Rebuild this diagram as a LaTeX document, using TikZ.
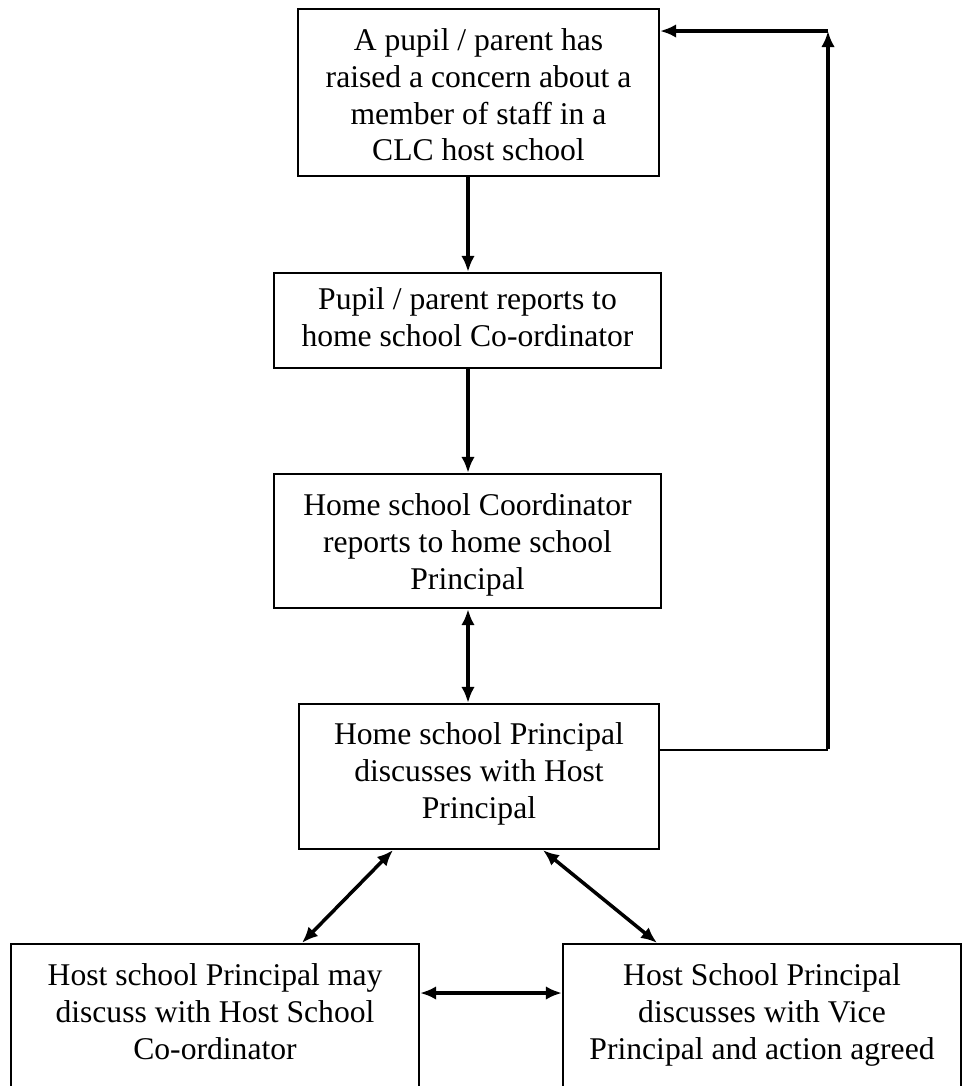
\documentclass[tikz,border=0pt]{standalone}
\usepackage{fontspec}
\setmainfont{Liberation Serif}
\usetikzlibrary{arrows.meta}
\tikzset{
  box/.style={draw, line width=1.3pt, inner sep=0pt},
  txt/.style={align=center, font=\fontsize{18}{21}\selectfont, inner sep=0pt, anchor=north},
  conn/.style={line width=2pt},
  thinconn/.style={line width=1.4pt},
  >={Latex[length=0.32cm,width=0.27cm]}
}
\begin{document}
\begin{tikzpicture}[x=0.02cm,y=-0.02cm]
\clip (0,0) rectangle (963,1086);
% boxes
\node[box, minimum width=7.22cm, minimum height=3.34cm] (b1) at (478.5,92.5) {};
\node[box, minimum width=7.74cm, minimum height=1.90cm] (b2) at (467.5,320.5) {};
\node[box, minimum width=7.74cm, minimum height=2.68cm] (b3) at (467.5,541) {};
\node[box, minimum width=7.20cm, minimum height=2.90cm] (b4) at (479,776.5) {};
\node[box, minimum width=8.16cm, minimum height=3.04cm] (b5) at (215,1020) {};
\node[box, minimum width=7.96cm, minimum height=3.04cm] (b6) at (762,1020) {};
% texts
\node[txt] (t1) at (478.5,28) {A pupil / parent has\\raised a concern about a\\member of staff in a\\CLC host school};
\node[txt] (t2) at (467.5,287) {Pupil / parent reports to\\home school Co-ordinator};
\node[txt] (t3) at (467.5,493) {Home school Coordinator\\reports to home school\\Principal};
\node[txt] (t4) at (479,722) {Home school Principal\\discusses with Host\\Principal};
\node[txt] (t5) at (215,963) {Host school Principal may\\discuss with Host School\\Co-ordinator};
\node[txt] (t6) at (762,963) {Host School Principal\\discusses with Vice\\Principal and action agreed};
% helper coordinates
\coordinate (ax) at (468,0);
\coordinate (rt) at (828,31);
\coordinate (rb) at (828,750);
\coordinate (d1) at (393,0);
\coordinate (d2) at (302,0);
\coordinate (d3) at (543,0);
\coordinate (d4) at (657,0);
\coordinate (hy) at (0,993);
% connectors
\draw[conn,->] (b1.south -| ax) -- (b2.north -| ax);
\draw[conn,->] (b2.south -| ax) -- (b3.north -| ax);
\draw[conn,<->] (b3.south -| ax) -- (b4.north -| ax);
\draw[thinconn] (b4.east |- rb) -- (rb);
\draw[conn,->] ([yshift=0.7pt]rb) -- (rt);
\draw[conn,->] (rt) -- (b1.east |- rt);
\draw[conn,<->] (b4.south -| d1) -- (b5.north -| d2);
\draw[conn,<->] (b4.south -| d3) -- (b6.north -| d4);
\draw[conn,<->] (b5.east |- hy) -- (b6.west |- hy);
\end{tikzpicture}
\end{document}
